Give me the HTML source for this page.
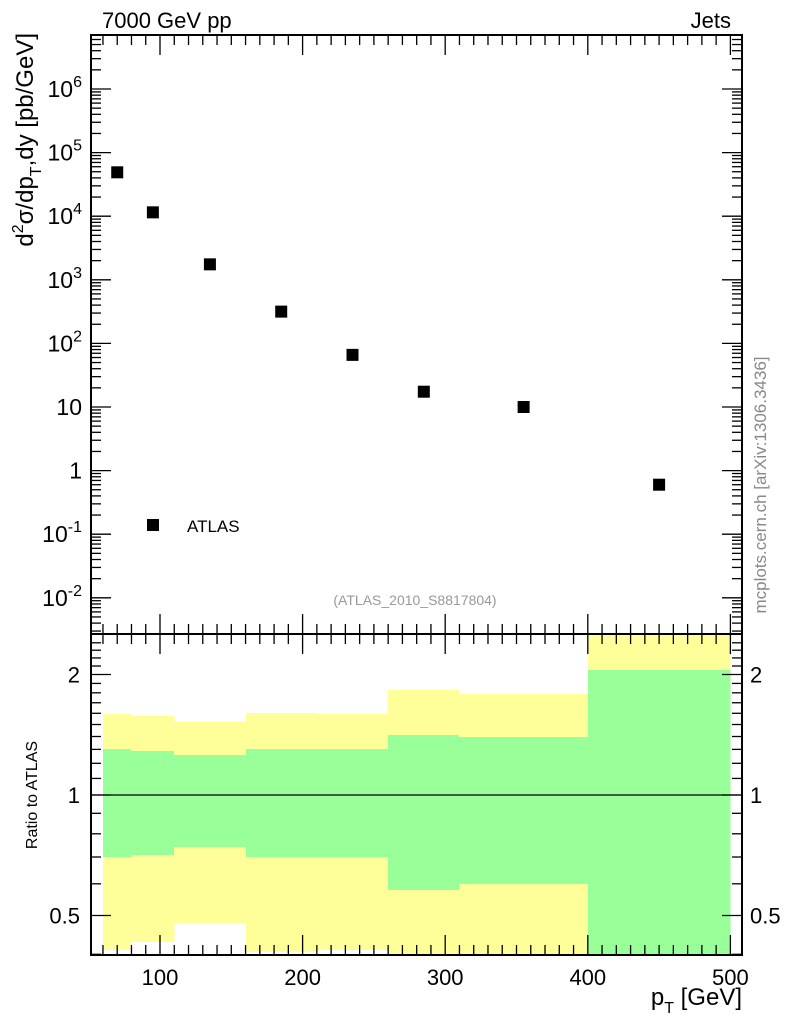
<!DOCTYPE html>
<html><head><meta charset="utf-8"><style>
body{margin:0;background:#fff}
svg{display:block;font-family:"Liberation Sans",sans-serif}
</style></head><body>
<svg id="c" width="786" height="1024" xmlns="http://www.w3.org/2000/svg"></svg>
<script>
const binEdges=[60,80,110,160,210,260,310,400,500];
const pointX=[70,95,135,185,235,285,355,450];
const pointY=[4.9e4,1.15e4,1.75e3,316,66,17.4,10,0.6];
const yellowHi=[1.59,1.575,1.52,1.6,1.59,1.83,1.79,2.7];
const greenHi=[1.30,1.29,1.26,1.30,1.30,1.41,1.40,2.05];
const greenLo=[0.70,0.71,0.74,0.70,0.70,0.58,0.60,0.35];
const yellowLo=[0.41,0.43,0.48,0.405,0.41,0.35,0.35,0.35];
const xTicks=[100,200,300,400,500];
const mainTicks=[-2,-1,0,1,2,3,4,5,6];
const mainTickLabels=["10^-2","10^-1","1","10","10^2","10^3","10^4","10^5","10^6"];
const ratioTicks=[0.5,1,2];

const NS="http://www.w3.org/2000/svg";
const svg=document.getElementById('c');
const L=91,R=742,T=35,MB=634,RB=955;
const X=v=>160+(v-100)*1.426;
const YM=v=>89+(6-Math.log10(v))*63.6;
const YR=v=>795-Math.log2(v)*120.5;
function el(t,a,txt){const e=document.createElementNS(NS,t);for(const k in a)e.setAttribute(k,a[k]);if(txt!==undefined)e.textContent=txt;svg.appendChild(e);return e;}
function clampR(y){return Math.round(Math.min(RB,Math.max(MB,y)));}

for(let i=0;i<binEdges.length-1;i++){
  const x0=Math.round(X(binEdges[i])),x1=Math.round(X(binEdges[i+1]));
  const yh=clampR(YR(yellowHi[i])),yl=clampR(YR(yellowLo[i]));
  const r1=el('rect',{x:x0,y:yh,width:x1-x0+0.6,height:yl-yh,fill:'#ffff99','shape-rendering':'crispEdges'});
  
  
  const gh=clampR(YR(greenHi[i])),gl=clampR(YR(greenLo[i]));
  const r2=el('rect',{x:x0,y:gh,width:x1-x0+0.6,height:gl-gh,fill:'#99ff99','shape-rendering':'crispEdges'});
  
  
}
const ul=el('line',{x1:L,x2:R,y1:YR(1),y2:YR(1),stroke:'#000','stroke-width':1.3});



const f1=el('rect',{x:L,y:T,width:R-L,height:MB-T,fill:'none',stroke:'#000','stroke-width':2});


const f2=el('rect',{x:L,y:MB,width:R-L,height:RB-MB,fill:'none',stroke:'#000','stroke-width':2});



function xt(y,dir){
  for(let v=60;v<=500;v+=10){const x=X(v);if(x<L||x>R)continue;const len=v%100===0?20:10;
    el('line',{x1:x,x2:x,y1:y,y2:y+dir*len,stroke:'#000','stroke-width':1.3});}
}
xt(T,1);xt(MB,-1);xt(MB,1);xt(RB,-1);
for(const v of xTicks){
  const t=el('text',{x:X(v),y:985,'font-size':22,'text-anchor':'middle'},String(v));
  
  
}
for(let d=-3;d<=6;d++){for(let m=1;m<10;m++){const v=m*Math.pow(10,d);const y=YM(v);if(y<T||y>MB)continue;
  const len=m===1?20:10;
  el('line',{x1:L,x2:L+len,y1:y,y2:y,stroke:'#000','stroke-width':1.3});
  el('line',{x1:R,x2:R-len,y1:y,y2:y,stroke:'#000','stroke-width':1.3});}}
mainTicks.forEach((d,i)=>{
  const y=YM(Math.pow(10,d));const lab=mainTickLabels[i];
  const t=el('text',{x:82,y:y+8,'font-size':23,'text-anchor':'end'});
  if(lab.indexOf('^')>=0){const [b,e]=lab.split('^');
    const s1=document.createElementNS(NS,'tspan');s1.textContent=b;t.appendChild(s1);
    const s2=document.createElementNS(NS,'tspan');s2.setAttribute('dy','-10');s2.setAttribute('font-size','16');s2.textContent=e;t.appendChild(s2);
  } else t.textContent=lab;
  
  
});
for(let v=0.4;v<=2.5;v+=0.1){const y=YR(v);if(y<MB||y>RB)continue;
  const major=Math.abs(v-0.5)<1e-6||Math.abs(v-1)<1e-6||Math.abs(v-2)<1e-6;const len=major?20:10;
  el('line',{x1:L,x2:L+len,y1:y,y2:y,stroke:'#000','stroke-width':1.3});
  el('line',{x1:R,x2:R-len,y1:y,y2:y,stroke:'#000','stroke-width':1.3});}
for(const v of ratioTicks){
  const t=el('text',{x:80,y:YR(v)+8,'font-size':22,'text-anchor':'end'},String(v));
  
  
  const t2=el('text',{x:750,y:YR(v)+8,'font-size':22},String(v));
  
  
}
pointX.forEach((v,i)=>{
  const r=el('rect',{x:X(v)-6,y:YM(pointY[i])-6,width:12,height:12,fill:'#000'});
  
  
});
</script>
<svg style="position:absolute;left:0;top:0" width="786" height="1024" xmlns="http://www.w3.org/2000/svg" font-family="Liberation Sans, sans-serif">
<text x="102" y="28" font-size="22">7000 GeV pp</text>
<text x="731" y="28" font-size="22" text-anchor="end">Jets</text>
<text transform="translate(33,33) rotate(-90)" text-anchor="end" font-size="24">d<tspan dy="-10" font-size="16">2</tspan><tspan dy="10">σ/dp</tspan><tspan dy="8" font-size="16">T</tspan><tspan dy="-8">,dy [pb/GeV]</tspan></text>
<text transform="translate(37,795) rotate(-90)" text-anchor="middle" font-size="16">Ratio to ATLAS</text>
<text x="742" y="1005" font-size="24" text-anchor="end">p<tspan dy="8" font-size="16">T</tspan><tspan dy="-8"> [GeV]</tspan></text>
<rect x="147" y="519" width="12" height="12" fill="#000"/>
<text x="187" y="532" font-size="17">ATLAS</text>
<text x="415" y="605" font-size="14" fill="#999" text-anchor="middle">(ATLAS_2010_S8817804)</text>
<text transform="translate(766,485) rotate(-90)" text-anchor="middle" font-size="17" fill="#888">mcplots.cern.ch [arXiv:1306.3436]</text>
</svg>
</body></html>
